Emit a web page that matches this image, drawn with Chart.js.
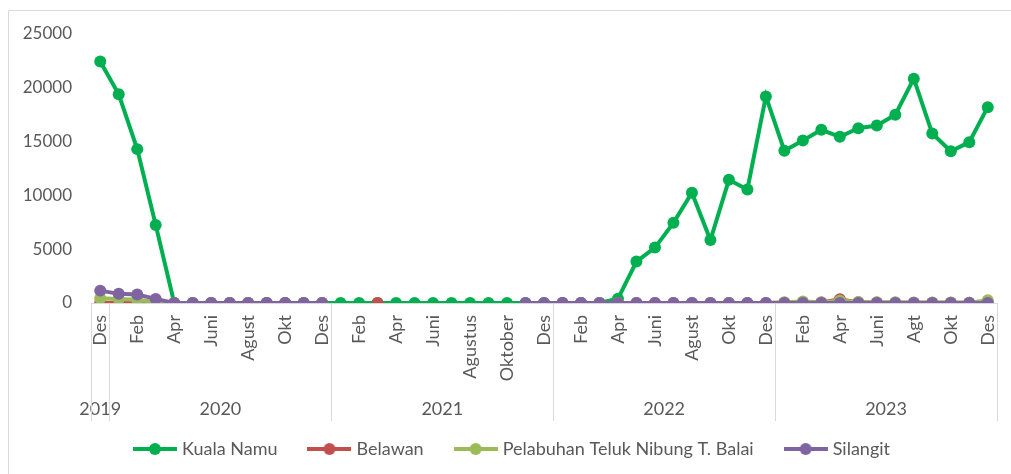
<!DOCTYPE html>
<html>
<head>
<meta charset="utf-8">
<script src="https://cdn.jsdelivr.net/npm/chart.js@4.4.1/dist/chart.umd.min.js"></script>
<style>
  html, body { margin: 0; padding: 0; background: #fff; }
  #wrap { width: 1011px; height: 474px; position: relative; }
</style>
</head>
<body>
<div id="wrap"><canvas id="chart"></canvas></div>
<script>
// Month labels per year (as written on the source axis)
const years = ['2019', '2020', '2021', '2022', '2023'];
const yearMonths = [
  ['Des'],
  ['Jan', 'Feb', 'Mar', 'Apr', 'Mei', 'Juni', 'Juli', 'Agust', 'Sep', 'Okt', 'Nov', 'Des'],
  ['Jan', 'Feb', 'Mar', 'Apr', 'Mei', 'Juni', 'Juli', 'Agustus', 'September', 'Oktober', 'November', 'Des'],
  ['Jan', 'Feb', 'Mar', 'Apr', 'Mei', 'Juni', 'Juli', 'Agust', 'Sep', 'Okt', 'Nov', 'Des'],
  ['Jan', 'Feb', 'Mar', 'Apr', 'Mei', 'Juni', 'Juli', 'Agt', 'Sep', 'Okt', 'Nov', 'Des']
];
const months = yearMonths.flat();

const seriesNames = ['Kuala Namu', 'Belawan', 'Pelabuhan Teluk Nibung T. Balai', 'Silangit'];
const seriesColors = ['#00B050', '#C0504D', '#9BBB59', '#8064A2'];

const kualaNamu = [
  22450,
  19400, 14300, 7250, 0, 0, 0, 0, 0, 0, 0, 0, 0,
  0, 0, 0, 0, 0, 0, 0, 0, 0, 0, 0, 0,
  0, 0, 0, 400, 3850, 5150, 7450, 10250, 5850, 11450, 10550, 19200,
  14150, 15100, 16100, 15450, 16250, 16500, 17500, 20850, 15750, 14100, 14950, 18200
];
const belawan = [
  30,
  30, 40, 20, 0, 0, 0, 0, 0, 0, 0, 0, 0,
  null, null, 0, null, null, null, null, null, null, null, null, null,
  0, 0, 0, 0, 0, 0, 0, 0, 0, 0, 0, 0,
  20, 30, 50, 350, 60, 40, 30, 20, 20, 30, 20, 40
];
const telukNibung = [
  450,
  380, 300, 90, 0, 0, 0, 0, 0, 0, 0, 0, 0,
  null, null, null, null, null, null, null, null, null, null, null, null,
  0, 0, 0, 0, 0, 0, 0, 0, 0, 0, 0, 0,
  60, 150, 80, 200, 100, 80, 60, 50, 40, 40, 30, 250
];
const silangit = [
  1150,
  850, 780, 380, 0, 0, 0, 0, 0, 0, 0, 0, 0,
  null, null, null, null, null, null, null, null, null, null, 0, 0,
  0, 0, 0, 0, 0, 0, 0, 0, 0, 0, 0, 0,
  0, 0, 0, 0, 0, 0, 0, 0, 0, 0, 0, 0
];
const seriesData = [kualaNamu, belawan, telukNibung, silangit];

const FONT = 'Lato, "Open Sans", sans-serif';
const TEXT = '#595959';
const LINE = '#d9d9d9';

// line + dot icon for the legend
function legendIcon(color) {
  const c = document.createElement('canvas');
  c.width = 44;
  c.height = 14;
  const g = c.getContext('2d');
  g.strokeStyle = color;
  g.lineWidth = 4;
  g.beginPath();
  g.moveTo(0, 7);
  g.lineTo(44, 7);
  g.stroke();
  g.fillStyle = color;
  g.beginPath();
  g.arc(22, 7, 6, 0, Math.PI * 2);
  g.fill();
  return c;
}
const icons = seriesColors.map(legendIcon);

// outer frame of the chart
const frame = {
  id: 'frame',
  beforeDraw(chart) {
    const ctx = chart.ctx;
    ctx.save();
    ctx.strokeStyle = LINE;
    ctx.lineWidth = 1;
    ctx.beginPath();
    ctx.moveTo(8.5, chart.height);
    ctx.lineTo(8.5, 10.5);
    ctx.lineTo(chart.width, 10.5);
    ctx.stroke();
    ctx.restore();
  }
};

// legend sits a bit right of the canvas centre in the original
const legendShift = {
  id: 'legendShift',
  afterLayout(chart) {
    chart.legend.left += 10;
    chart.legend.right += 10;
  }
};

// second axis level: year names and separators
const yearGroups = {
  id: 'yearGroups',
  afterDraw(chart) {
    const x = chart.scales.x;
    const ctx = chart.ctx;
    const step = x.getPixelForValue(1) - x.getPixelForValue(0);
    const top = chart.chartArea.bottom;
    const edges = [];
    let start = 0;
    ctx.save();
    ctx.fillStyle = TEXT;
    ctx.font = '18px ' + FONT;
    ctx.textAlign = 'center';
    ctx.textBaseline = 'middle';
    years.forEach((yr, i) => {
      const n = yearMonths[i].length;
      const left = x.getPixelForValue(start) - step / 2;
      const right = x.getPixelForValue(start + n - 1) + step / 2;
      edges.push(left);
      if (i === years.length - 1) edges.push(right);
      ctx.fillText(yr, (left + right) / 2, top + 106);
      start += n;
    });
    ctx.strokeStyle = LINE;
    ctx.lineWidth = 1;
    edges.forEach(e => {
      const px = Math.round(e) + 0.5;
      ctx.beginPath();
      ctx.moveTo(px, top);
      ctx.lineTo(px, top + 118);
      ctx.stroke();
    });
    ctx.restore();
  }
};

const datasets = seriesNames.map((name, i) => ({
  label: name,
  data: seriesData[i],
  borderColor: seriesColors[i],
  backgroundColor: seriesColors[i],
  borderWidth: 4,
  pointRadius: 6,
  pointHoverRadius: 6,
  pointBorderWidth: 0,
  tension: 0,
  order: seriesNames.length - i
}));

new Chart(document.getElementById('chart'), {
  type: 'line',
  data: { labels: months, datasets: datasets },
  plugins: [frame, legendShift, yearGroups],
  options: {
    responsive: true,
    maintainAspectRatio: false,
    animation: false,
    layout: { padding: { top: 34, right: 14, bottom: 6, left: 10 } },
    scales: {
      x: {
        offset: true,
        grid: { display: false, drawTicks: false },
        border: { display: true, color: LINE },
        ticks: {
          autoSkip: false,
          maxRotation: 90,
          minRotation: 90,
          padding: 12,
          color: TEXT,
          font: { family: FONT, size: 18 },
          callback: (v, i) => (i % 2 === 0 ? months[i] : '')
        },
        afterFit: (scale) => {
          scale.height = 103;
          scale.paddingLeft = 0;
          scale.paddingRight = 0;
        }
      },
      y: {
        min: 0,
        max: 25000,
        grid: { display: false, drawTicks: false },
        border: { display: false },
        ticks: {
          stepSize: 5000,
          padding: 19,
          color: TEXT,
          font: { family: FONT, size: 17 },
          callback: (v) => String(v)
        },
        afterFit: (scale) => { scale.width = 81; }
      }
    },
    plugins: {
      tooltip: { enabled: false },
      legend: {
        position: 'bottom',
        labels: {
          usePointStyle: true,
          pointStyleWidth: 36,
          padding: 34,
          color: TEXT,
          font: { family: FONT, size: 18 },
          sort: (a, b) => a.datasetIndex - b.datasetIndex,
          generateLabels: (chart) =>
            Chart.defaults.plugins.legend.labels.generateLabels(chart)
              .map(l => Object.assign(l, { pointStyle: icons[l.datasetIndex] }))
        }
      }
    }
  }
});
</script>
</body>
</html>
